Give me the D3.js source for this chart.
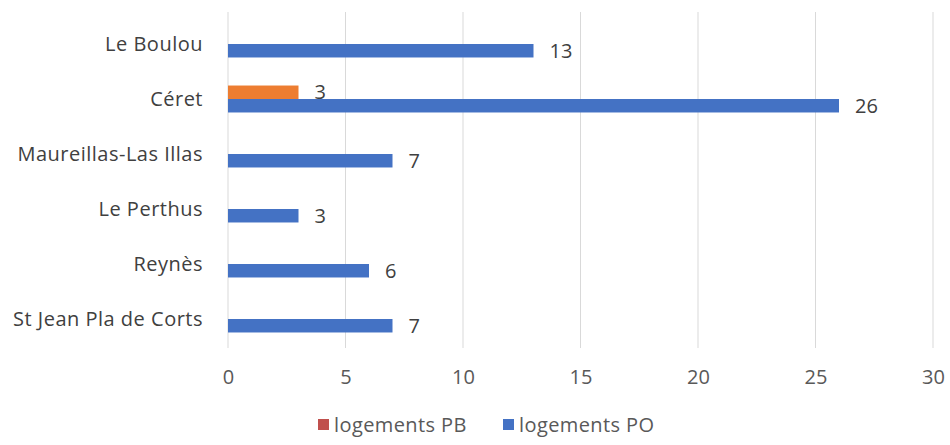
<!DOCTYPE html>
<html><head><meta charset="utf-8">
<script src="https://cdn.jsdelivr.net/npm/d3@7"></script>
<style>body{margin:0;background:#fff}svg{display:block}text{font-family:"Open Sans",sans-serif}</style>
</head><body><svg id="c" width="950" height="445"></svg>
<script>
const categories = ["Le Boulou","Céret","Maureillas-Las Illas","Le Perthus","Reynès","St Jean Pla de Corts"];
const seriesNames = ["logements PB","logements PO"];
const valuesPB = [null,3,null,null,null,null];
const valuesPO = [13,26,7,3,6,7];
const xTicks = [0,5,10,15,20,25,30];
const barColors = ["#ED7D31","#4472C4"];
const legendColors = ["#C0504D","#4472C4"];

const FS = 20;
const svg = d3.select("#c");
const x = d3.scaleLinear().domain([0,30]).range([228,933]);
const y0 = d3.scaleBand().domain(categories).range([16.5,346.5]).paddingInner(0.51).paddingOuter(0.255);
const y1 = d3.scaleBand().domain(seriesNames).range([0,y0.bandwidth()]);

// grid
svg.append("g").selectAll("line").data(xTicks).join("line")
  .attr("x1",d=>x(d)).attr("x2",d=>x(d)).attr("y1",12).attr("y2",348)
  .attr("stroke","#d9d9d9").attr("stroke-width",1);

// x axis labels
const xAxis = d3.axisBottom(x).tickValues(xTicks).tickSize(0).tickPadding(0);
const gx = svg.append("g").attr("transform","translate(0,370)").call(xAxis);
gx.select(".domain").remove();
gx.selectAll("text").attr("font-size",FS).attr("fill","#595959").attr("font-family","'Open Sans',sans-serif");

// y labels
const yAxis = d3.axisLeft(y0).tickSize(0).tickPadding(25);
const gy = svg.append("g").attr("transform","translate(228,0)").call(yAxis);
gy.select(".domain").remove();
gy.selectAll("text").attr("font-size",FS).attr("fill","#404040").attr("font-family","'Open Sans',sans-serif")
  .attr("letter-spacing","0.5px").attr("dy","0.34em");

const data = [];
categories.forEach((c,i)=>{
  [valuesPB[i],valuesPO[i]].forEach((v,j)=>{ if(v!=null) data.push({c,s:seriesNames[j],v,j}); });
});
svg.append("g").selectAll("rect").data(data).join("rect")
  .attr("x",x(0)).attr("y",d=>y0(d.c)+y1(d.s))
  .attr("width",d=>x(d.v)-x(0)).attr("height",y1.bandwidth())
  .attr("fill",d=>barColors[d.j]);
svg.append("g").selectAll("text").data(data).join("text")
  .attr("x",d=>x(d.v)+16).attr("y",d=>y0(d.c)+y1(d.s)+y1.bandwidth()/2)
  .attr("dy","0.36em").attr("font-size",FS).attr("fill","#404040")
  .text(d=>d.v);

// legend
const leg = svg.append("g").attr("transform","translate(0,425)");
const lx = [318,503];
seriesNames.forEach((s,i)=>{
  leg.append("rect").attr("x",lx[i]).attr("y",-6).attr("width",11).attr("height",11).attr("fill",legendColors[i]);
  leg.append("text").attr("x",lx[i]+16).attr("y",0).attr("dy","0.36em").attr("font-size",FS)
    .attr("letter-spacing","0.4px").attr("fill","#595959").text(s);
});
</script></body></html>
